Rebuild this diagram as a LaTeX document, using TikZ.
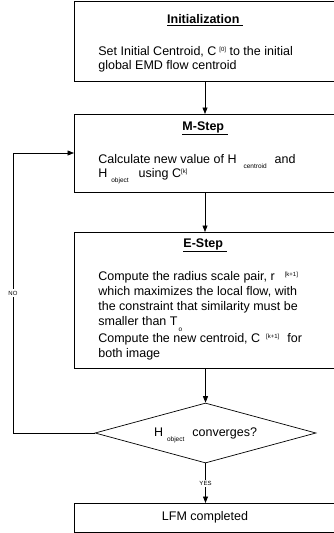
\documentclass[tikz,border=0pt]{standalone}
\usepackage{fontspec}
\setmainfont{Liberation Sans}
\usetikzlibrary{shapes.geometric,arrows.meta}
\newcommand{\lowsub}[2][5pt]{\smash{\raisebox{-#1}{\fontsize{6.5}{6.5}\selectfont #2}}}
\newcommand{\highsup}[1]{\smash{\raisebox{4pt}{\fontsize{6}{6}\selectfont #1}}}
\begin{document}
\begin{tikzpicture}[x=1pt,y=-1pt,line width=0.7pt,
  every node/.style={font=\fontsize{12.5}{13.5}\selectfont},
  box/.style={draw,rectangle,inner sep=0pt,outer sep=0pt,minimum width=262pt},
  title/.style={font=\fontsize{12.5}{13.5}\selectfont\bfseries,inner sep=0pt},
  body/.style={anchor=north west,align=left,inner sep=0pt},
  arr/.style={-{Triangle[length=6.5pt,width=5pt]}},
  lbl/.style={fill=white,font=\fontsize{6}{6}\selectfont,inner sep=1.5pt}]
\useasboundingbox (0,0) rectangle (333,533);

% boxes
\node[box,minimum height=80pt] (init) at (205,41) {};
\node[box,minimum height=78pt] (m) at (205,153) {};
\node[box,minimum height=136pt] (e) at (205,300) {};
\node[draw,diamond,aspect=3.68,minimum width=221pt,minimum height=60pt,inner sep=0pt] (dec) at (205.5,433)
  {H\hspace{4pt}\lowsub{object}\hspace{8pt}converges?};
\node[box,minimum height=29pt] (lfm) at (205,517.5) {LFM completed};

% titles
\node[title] (tinit) at (205,20) {\underline{Initialization\ }};
\node[title] (tm) at (205,128) {\underline{M-Step\ }};
\node[title] (te) at (205,245) {\underline{E-Step\ }};

% texts
\node[body] (binit) at (98,46.5) {Set Initial Centroid, C\hspace{3pt}\highsup{[0]} to the initial\\global EMD flow centroid};
\node[body] (bm) at (98,154.5) {Calculate new value of H\hspace{7pt}\lowsub{centroid}\hspace{8pt}and\\H\hspace{4pt}\lowsub{object}\hspace{10pt}using C\highsup{[k]}};
\node[body,font=\fontsize{12.5}{15}\selectfont] (be) at (98,271.5) {Compute the radius scale pair, r\hspace{10pt}\highsup{[k+1]}\\
which maximizes the local flow, with\\
the constraint that similarity must be\\
smaller than T\hspace{1pt}\lowsub[6pt]{o}\\[1.5pt]
Compute the new centroid, C\hspace{6pt}\highsup{[k+1]}\hspace{8pt}for\\
both image};

% connectors
\coordinate (loopx) at (13,0);
\draw[arr] (init) -- (m);
\draw[arr] (m) -- (e);
\draw[arr] (e.south) -- (e.south -| dec.north) -- (dec.north);
\draw[arr] (dec.south) -- node[lbl] {YES} (dec.south |- lfm.north);
\draw[arr] (dec.west) -- (dec.west -| loopx) -- node[lbl] {NO} (m.west -| loopx) -- (m.west);
\end{tikzpicture}
\end{document}
